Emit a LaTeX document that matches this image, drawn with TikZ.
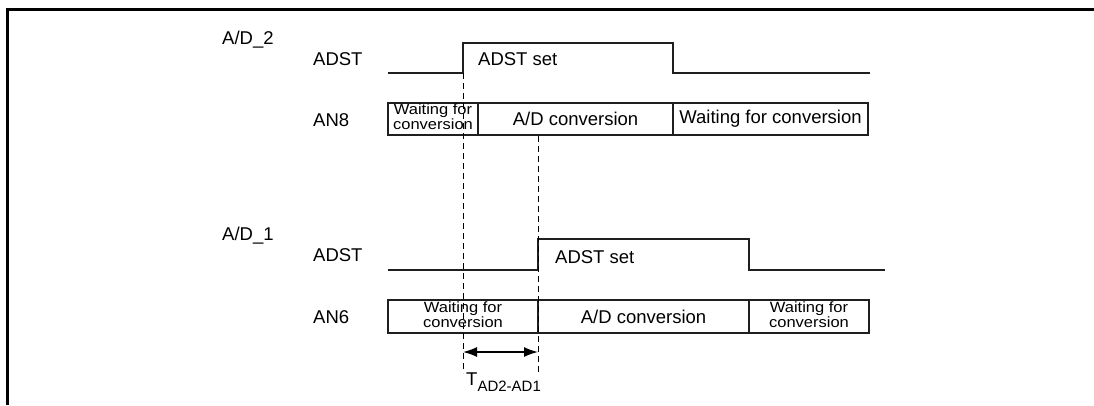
\documentclass[tikz,border=0pt]{standalone}
\usepackage{fontspec}
\setmainfont{Liberation Sans}
\usetikzlibrary{arrows.meta}
\newcommand\wfcText{\scalebox{1}[0.9]{\fontsize{16.5}{15}\selectfont\begin{tabular}{@{}c@{}}Waiting for\\conversion\end{tabular}}}
\begin{document}
\begin{tikzpicture}[x=1pt,y=-1pt,
  lbl/.style={font=\fontsize{18.5}{20}\selectfont, inner sep=0pt},
  sig/.style={line width=2.6pt, line join=miter, draw=black!88},
  cell/.style={draw=black!88, line width=2.6pt, inner sep=0pt, font=\fontsize{18.5}{20}\selectfont},
  guide/.style={line width=0.8pt, dash pattern=on 6pt off 4pt},
  frame/.style={line width=3pt}
]
\useasboundingbox (0,0) rectangle (1094,405);
\draw[frame] (1094,9) -- (7,9) -- (7,405);

% labels
\node[lbl, anchor=base west] (ad2) at (222,44) {A/D\_2};
\node[lbl, anchor=base west] (adst2) at (313,65) {ADST};
\node[lbl, anchor=base west] (an8) at (313,126) {AN8};
\node[lbl, anchor=base west] (ad1) at (222,240) {A/D\_1};
\node[lbl, anchor=base west] (adst1) at (313,261) {ADST};
\node[lbl, anchor=base west] (an6) at (313,323) {AN6};

% ADST signal A/D_2
\coordinate (s2a) at (388,73);
\coordinate (s2b) at (463,73);
\coordinate (s2c) at (463,43);
\coordinate (s2d) at (673,43);
\coordinate (s2e) at (673,73);
\coordinate (s2f) at (870,73);
\draw[sig] (s2a) -- (s2b) -- (s2c) -- (s2d) -- (s2e) -- (s2f);
\node[lbl, anchor=base west] (set2) at (478,65) {ADST set};

% AN8 cells
\node[cell, minimum width=90pt, minimum height=32pt] (c21) at (433,119) {\wfcText};
\node[cell, minimum width=195pt, minimum height=32pt] (c22) at (575.5,119) {A/D conversion};
\node[cell, minimum width=195pt, minimum height=32pt] (c23) at (770.5,119) {Waiting for conversion};

% ADST signal A/D_1
\coordinate (s1a) at (388,270);
\coordinate (s1b) at (538,270);
\coordinate (s1c) at (538,239);
\coordinate (s1d) at (749,239);
\coordinate (s1e) at (749,270);
\coordinate (s1f) at (885,270);
\draw[sig] (s1a) -- (s1b) -- (s1c) -- (s1d) -- (s1e) -- (s1f);
\node[lbl, anchor=base west] (set1) at (555,263) {ADST set};

% AN6 cells
\node[cell, minimum width=150pt, minimum height=33pt] (c11) at (463,316.5) {\wfcText};
\node[cell, minimum width=211pt, minimum height=33pt] (c12) at (643.5,316.5) {A/D conversion};
\node[cell, minimum width=120pt, minimum height=33pt] (c13) at (809,316.5) {\wfcText};

% guides
\coordinate (g1) at (463,373);
\coordinate (g2top) at (538,136);
\coordinate (g2) at (538,373);
\draw[guide] (s2b) -- (g1);
\draw[guide] (g2top) -- (g2);

% interval arrow
\coordinate (a1) at (463,352);
\coordinate (a2) at (538,352);
\draw[line width=1.5pt, {Latex[length=14pt,width=10pt]}-{Latex[length=14pt,width=10pt]}] (a1) -- (a2);
\node[lbl, anchor=base west] (tlab) at (466,385) {T\raisebox{-6.5pt}{\fontsize{15}{15}\selectfont AD2-AD1}};
\end{tikzpicture}
\end{document}
